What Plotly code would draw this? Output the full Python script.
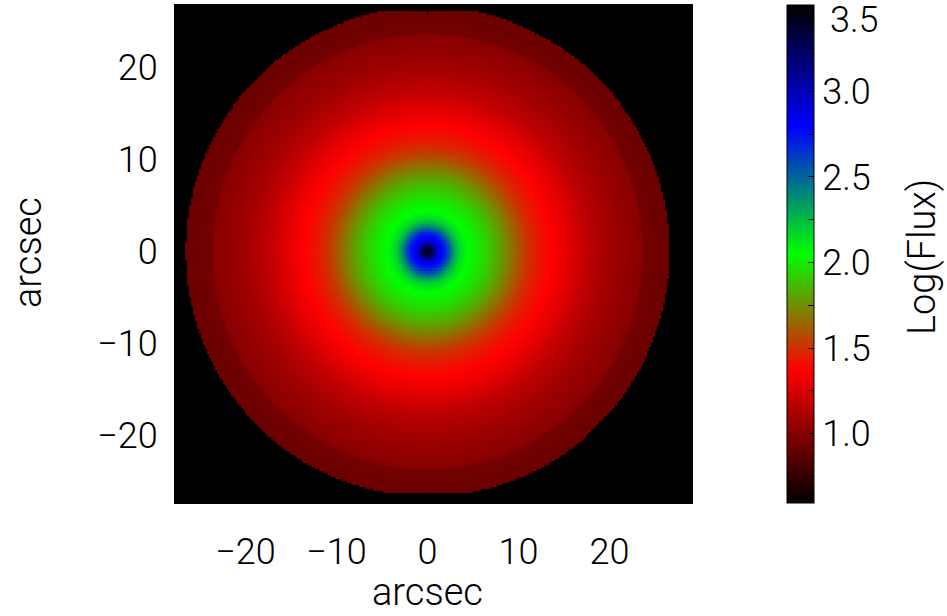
import numpy as np
import plotly.graph_objects as go

# Azimuthally averaged surface brightness profile (log10 flux) vs radius in arcsec
radius_arcsec = [0.0, 0.4, 0.8, 1.3, 1.9, 2.5, 3.0, 3.6, 4.4, 5.2, 6.2, 7.3, 8.4,
                 9.3, 10.2, 11.1, 12.1, 13.5, 14.5, 15.8, 17.5, 19.4, 21.2, 23.6,
                 23.7, 26.6]
log_flux = [3.50, 3.35, 3.10, 2.85, 2.72, 2.50, 2.30, 2.15, 2.06, 2.01, 1.95, 1.86,
            1.76, 1.67, 1.58, 1.50, 1.44, 1.38, 1.33, 1.27, 1.18, 1.11, 1.06, 1.01,
            0.95, 0.92]

# Field of the map
disk_radius = 26.6          # arcsec, outer edge of the model disk
y_limits = [-26.2, 26.0]    # rows covered by the map
pixel_scale = 0.22          # arcsec per pixel

# Colour scale limits and ticks
z_min, z_max = 0.595, 3.505
cbar_major = [1.0, 1.5, 2.0, 2.5, 3.0, 3.5]
cbar_minor = [0.75, 1.25, 1.75, 2.25, 2.75, 3.25]
axis_ticks = [-20, -10, 0, 10, 20]

# Build the image on a pixel grid from the radial profile
xs = np.arange(-26.8, 26.81, pixel_scale)
ys = np.arange(-26.8, 26.81, pixel_scale)
X, Y = np.meshgrid(xs, ys)
R = np.hypot(X, Y)
z = np.interp(R, radius_arcsec, log_flux)
outside = (R > disk_radius) | (Y < y_limits[0]) | (Y > y_limits[1])
z[outside] = np.nan

colorscale = [
    [0.0, "rgb(0,0,0)"],
    [0.268, "rgb(255,0,0)"],
    [0.5, "rgb(0,255,0)"],
    [0.756, "rgb(0,0,255)"],
    [1.0, "rgb(0,0,0)"],
]

font_family = "Roboto"
tick_font = dict(family=font_family, size=36, color="black", weight=300)
title_font = dict(family=font_family, size=38, color="black", weight=300)

# The top colorbar label sits inside the figure, just below its tick
cbar_vals = sorted(cbar_major + cbar_minor)
cbar_top = cbar_major[-1]
cbar_text = [f"{v:.1f}" if (v in cbar_major and v != cbar_top) else ""
             for v in cbar_vals]

fig = go.Figure(
    go.Heatmap(
        x=xs, y=ys, z=z,
        colorscale=colorscale, zmin=z_min, zmax=z_max,
        hoverinfo="skip",
        colorbar=dict(
            x=1.1838, xanchor="left", xpad=0,
            y=0.5, yanchor="middle", ypad=0,
            len=1.0, lenmode="fraction",
            thickness=27, thicknessmode="pixels",
            outlinecolor="black", outlinewidth=1,
            tickvals=cbar_vals, ticktext=cbar_text,
            ticks="inside", ticklen=6, tickwidth=1, tickcolor="black",
            tickfont=tick_font,
        ),
    )
)

axis_common = dict(
    tickvals=axis_ticks,
    ticks="inside", ticklen=10, tickwidth=1, tickcolor="black",
    showgrid=False, zeroline=False,
    showline=True, linecolor="black", linewidth=1, mirror="ticks",
    tickfont=tick_font,
)

fig.update_layout(
    width=947, height=616,
    margin=dict(l=175, r=255, t=5, b=113),
    paper_bgcolor="white", plot_bgcolor="black",
    xaxis=dict(range=[-27.75, 29.07], ticklabelstandoff=17, **axis_common),
    yaxis=dict(range=[-27.34, 26.8], ticklabelstandoff=9, **axis_common),
    annotations=[
        dict(text=f"{cbar_top:.1f}", xref="paper", yref="paper", x=1.263, y=0.970,
             xanchor="left", yanchor="middle", showarrow=False, font=tick_font),
        dict(text="arcsec", xref="paper", yref="paper", x=0.489, y=-0.2269,
             xanchor="center", yanchor="bottom", showarrow=False,
             font=title_font),
        dict(text="arcsec", xref="paper", yref="paper", x=-0.2843, y=0.502,
             xanchor="center", yanchor="middle", textangle=-90, showarrow=False,
             font=title_font),
        dict(text="Log(Flux)", xref="paper", yref="paper", x=1.4449, y=0.494,
             xanchor="center", yanchor="middle", textangle=-90, showarrow=False,
             font=title_font),
    ],
)

fig.write_html("out.html")
